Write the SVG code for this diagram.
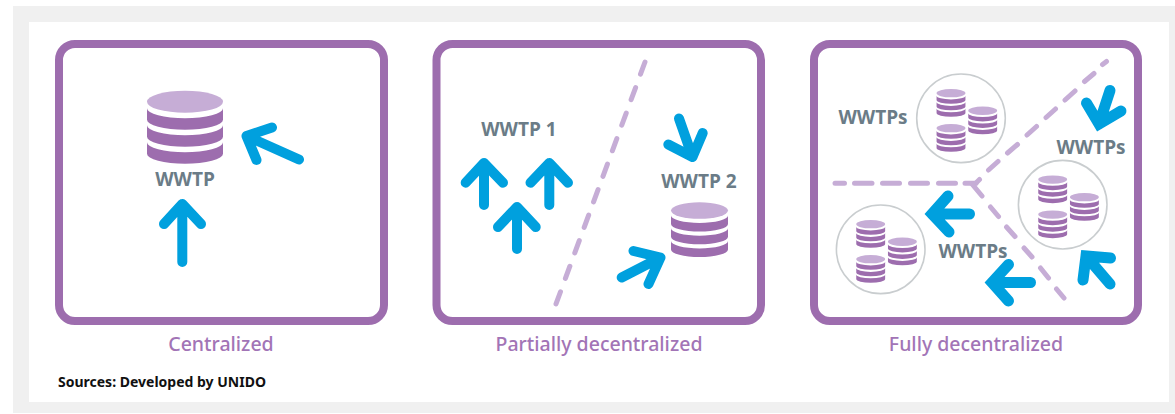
<svg xmlns="http://www.w3.org/2000/svg" width="1175" height="414" viewBox="0 0 1175 414">
<style>
.frame{fill:#fff;stroke:#9d6dae;stroke-width:8}
.arrow{fill:none;stroke:#00a0de;stroke-width:10;stroke-linecap:round;stroke-linejoin:round}
.sharp{stroke-width:11;stroke-linejoin:miter}
.dash{fill:none;stroke:#c6add6;stroke-width:5;stroke-linecap:round}
.lbl{font:700 19px "Open Sans","Noto Sans",sans-serif;fill:#6b7c87;text-anchor:middle}
.cap{font:500 19.500px "Noto Sans","Open Sans",sans-serif;fill:#a274b6;text-anchor:middle}
.src{font:700 14px "Noto Sans","Open Sans",sans-serif;fill:#111}
.ring{fill:#fff;stroke:#c9cdcf;stroke-width:1.600}
.dark{fill:#9d6dae}.light{fill:#c6add6}
</style>
<defs>
<g id="db">
<path class="dark" d="M-38 17.500A38 10 0 0 0 38 17.500V29A38 10 0 0 1-38 29Z"/>
<path class="dark" d="M-38 34.500A38 10 0 0 0 38 34.500V46A38 10 0 0 1-38 46Z"/>
<path class="dark" d="M-38 51.500A38 10 0 0 0 38 51.500V63A38 10 0 0 1-38 63Z"/>
<ellipse class="light" cx="0" cy="11" rx="38" ry="11"/>
</g>
<g id="cluster">
<use href="#db" transform="translate(-10,-29.300) scale(.38)"/>
<use href="#db" transform="translate(21.700,-11.700) scale(.38)"/>
<use href="#db" transform="translate(-10,5.700) scale(.38)"/>
</g>
</defs>
<rect x="13" y="6" width="1162" height="407" fill="#f0f0f0"/>
<rect x="29" y="22" width="1140" height="380" fill="#fff"/>

<g id="node-centralized">
<rect class="frame" x="59" y="44" width="325" height="277" rx="16"/>
<use href="#db" transform="translate(185,90.700)"/>
<text class="lbl" x="185" y="185.500">WWTP</text>
<text class="cap" x="221" y="351">Centralized</text>
</g>
<g id="node-partial">
<rect class="frame" x="436.500" y="44" width="324.500" height="277" rx="16"/>
<use href="#db" transform="translate(699.500,202.300) scale(.75)"/>
<text class="lbl" x="699" y="187.500">WWTP 2</text>
<text class="lbl" x="519" y="136">WWTP 1</text>
<text class="cap" x="599" y="351">Partially decentralized</text>
</g>
<g id="node-full">
<rect class="frame" x="814" y="44" width="324" height="277" rx="16"/>
<circle class="ring" cx="961" cy="118.300" r="44.300"/>
<use href="#cluster" transform="translate(961,118.300)"/>
<circle class="ring" cx="1062.700" cy="204.700" r="44.300"/>
<use href="#cluster" transform="translate(1062.700,204.700)"/>
<circle class="ring" cx="880.700" cy="249.300" r="44.300"/>
<use href="#cluster" transform="translate(880.700,249.300)"/>
<text class="lbl" x="873" y="124">WWTPs</text>
<text class="lbl" x="1091" y="154">WWTPs</text>
<text class="lbl" x="973" y="257.500">WWTPs</text>
<text class="cap" x="976" y="351">Fully decentralized</text>
</g>
<text class="src" x="58" y="387">Sources: Developed by UNIDO</text>

<g id="connectors">
<path class="dash" stroke-dasharray="13 14.200" d="M645 62L556 304"/>
<path class="dash" d="M1106.500 61.500L1102.500 64.500M1094 73.500L1084.500 81.500M1075 91L1065 100M1055.500 109L1046 117.500M1036.500 126.500L1027 135M1017.500 144.500L1007.500 153M998 161.500L988.500 170M979.500 179.500L976 183"/>
<path class="dash" d="M835 183.300H844.500M854.500 183.300H872M882.500 183.300H899.500M910.500 183.300H927.500M938.500 183.300H955.500M965 183.300H976"/>
<path class="dash" d="M972 184L982 196M990.500 207L998.500 216.500M1006.500 227L1015 236.500M1024 248L1032 257M1040.500 268L1048.500 278M1056.500 289L1064 298"/>
<path class="arrow" d="M182.300 262V204M164 224L182.300 204L201 224"/>
<path class="arrow" d="M299 159.500L246.500 136M256.500 160L246.500 136L272 127.500"/>
<path class="arrow" d="M484 205V163M465.700 182.700L484 163L503 182.700"/>
<path class="arrow" d="M549.300 205V163M530.500 182.700L549.300 163L568 182.700"/>
<path class="arrow" d="M517 249V207M498 227L517 207L535.700 227"/>
<path class="arrow" d="M679 118.500L692.500 157M668.300 144.500L692.500 157L702.700 133"/>
<path class="arrow" d="M621.700 277.500L660.500 257.500M633.500 251L660.500 257.500L648.500 284"/>
<path class="arrow sharp" d="M1110 90.500L1099 124M1086.500 103L1099 124L1121 111"/>
<path class="arrow sharp" d="M1110 284L1086 256M1083 280L1086 256L1110.500 258"/>
<path class="arrow sharp" d="M969.500 214H932M948 196L932 214L949 232"/>
<path class="arrow sharp" d="M1030.500 282.500H992M1008.500 264.500L992 282.500L1008.500 301"/>
</g>
</svg>
